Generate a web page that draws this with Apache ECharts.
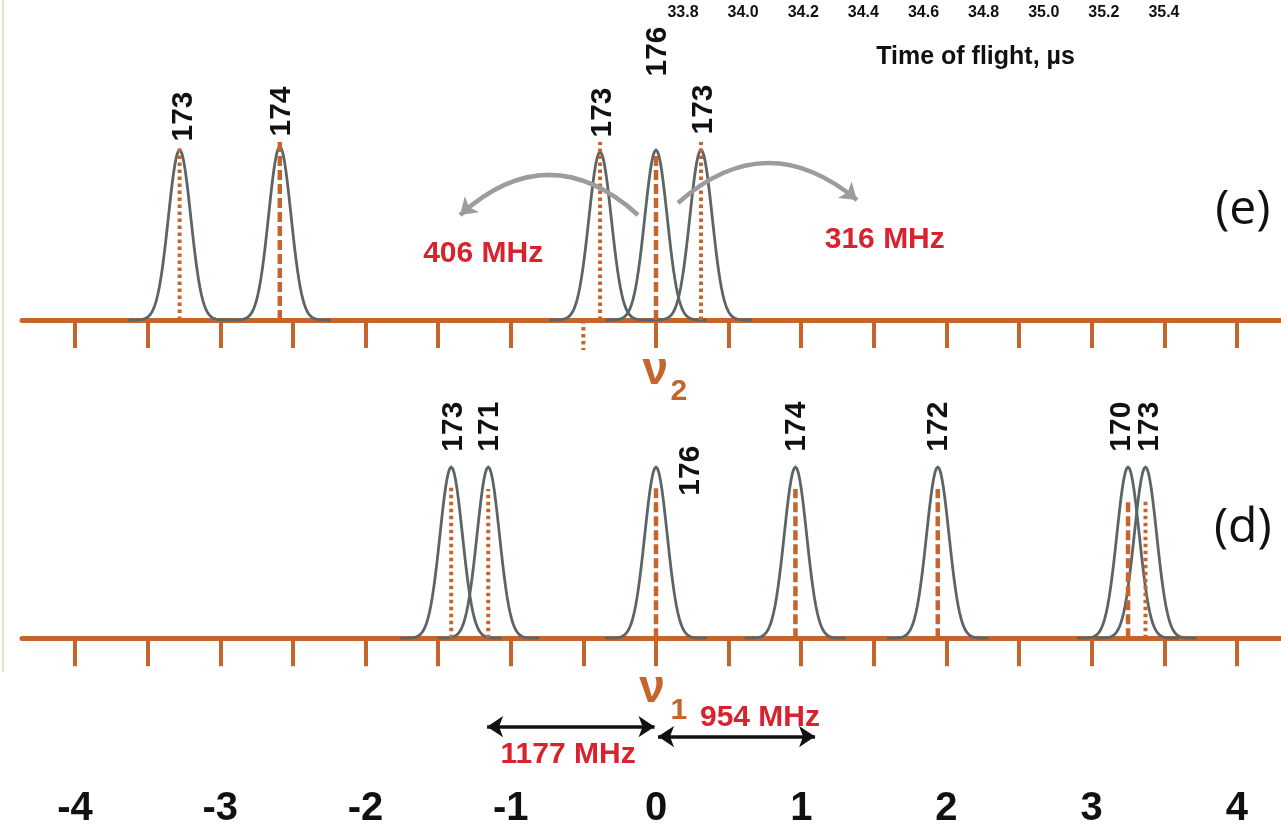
<!DOCTYPE html>
<html><head><meta charset="utf-8">
<script src="https://cdn.jsdelivr.net/npm/echarts@6/dist/echarts.min.js"></script>
<style>html,body{margin:0;padding:0;background:#fff}#c{width:1281px;height:837px}</style>
</head><body><div id="c"></div>
<script>
// ---------------- data ----------------
// panel (e)
const ePeakPos    = [-3.28, -2.59, -0.385, 0.0, 0.31];
const ePeakHeight = [0.85, 0.865, 0.84, 0.85, 0.85];
const ePeakMass   = ['173', '174', '173', '176', '173'];
const ePeakLine   = ['dotted', 'dashed', 'dotted', 'dashed', 'dotted'];
const eLineTop    = [0.86, 0.90, 0.89, 0.84, 0.89];
const eDottedTicks = [-0.5];
// panel (d)
const dPeakPos    = [-1.41, -1.155, 0.0, 0.96, 1.94, 3.25, 3.37];
const dPeakHeight = [0.86, 0.86, 0.86, 0.86, 0.86, 0.86, 0.86];
const dPeakMass   = ['173', '171', '176', '174', '172', '170', '173'];
const dPeakLine   = ['dotted', 'dotted', 'dashed', 'dashed', 'dashed', 'dashed', 'dotted'];
const dLineTop    = [0.76, 0.75, 0.76, 0.75, 0.75, 0.70, 0.70];
const peakSigma   = 0.077;
// axes
const freqTicks  = [-4, -3.5, -3, -2.5, -2, -1.5, -1, -0.5, 0, 0.5, 1, 1.5, 2, 2.5, 3, 3.5, 4];
const freqLabels = [-4, -3, -2, -1, 0, 1, 2, 3, 4];
const tofLabels  = [33.8, 34.0, 34.2, 34.4, 34.6, 34.8, 35.0, 35.2, 35.4];
const tofName    = 'Time of flight, µs';
// annotations text
const eShiftText = ['406 MHz', '316 MHz'];
const dShiftText = ['1177 MHz', '954 MHz'];

// ---------------- layout / style ----------------
const ORANGE = '#c4652d', GRAY = '#5b6565', RED = '#d8232f', ARROW = '#9c9c9c';
const XMIN = -4.365, XMAX = 4.303;
const TOFMIN = 33.7568, TOFMAX = 35.7894;
const eLabelShift = [[5, -8], [2, -10], [3, -14], [2, -73], [3, -15]];
const dLabelShift = [[3, -15], [2, -15], [35, 29], [2, -15], [1, -15], [-6, -15], [5, -15]];

const redStyle = {color: RED, fontSize: 30, fontWeight: 'bold', fontFamily: 'Liberation Sans'};
const nuStyle  = {color: ORANGE, fontSize: 46, fontWeight: 'bold', fontFamily: 'Liberation Sans'};
const subStyle = {color: ORANGE, fontSize: 30, fontWeight: 'bold', fontFamily: 'Liberation Sans'};
const panStyle = {color: '#111', fontSize: 48, fontFamily: 'Open Sans'};

const eAnno = [
  {text: eShiftText[0], at: [-1.19, 0.33], style: redStyle},
  {text: eShiftText[1], at: [1.575, 0.40], style: redStyle},
  {text: 'ν', at: [-0.005, -0.255], style: nuStyle},
  {text: '2', at: [0.158, -0.36], style: subStyle},
  {text: '(e)', at: [4.04, 0.55], style: panStyle}
];
const dAnno = [
  {text: dShiftText[0], at: [-0.605, -0.585], style: redStyle},
  {text: dShiftText[1], at: [0.716, -0.40], style: redStyle},
  {text: 'ν', at: [-0.028, -0.255], style: nuStyle},
  {text: '1', at: [0.158, -0.365], style: subStyle},
  {text: '(d)', at: [4.04, 0.55], style: panStyle}
];
const eArrows = [
  {coords: [[-0.124, 0.525], [-1.349, 0.525]], curveness: -0.45},
  {coords: [[0.151, 0.585], [1.384, 0.60]], curveness: 0.43}
];
const dArrows = [
  {coords: [[-1.163, -0.445], [-0.01, -0.445]]},
  {coords: [[0.014, -0.495], [1.095, -0.495]]}
];

// ---------------- build ----------------
function gaussSeries(pos, h, axis) {
  return {
    type: 'custom', xAxisIndex: axis, yAxisIndex: axis, silent: true, z: 3,
    data: pos.map((p, i) => [p, h[i]]),
    renderItem(params, api) {
      const c = api.value(0), a = api.value(1), pts = [];
      for (let k = -35; k <= 35; k++) {
        const x = c + k * 0.01;
        pts.push(api.coord([x, a * Math.exp(-((x - c) * (x - c)) / (2 * peakSigma * peakSigma))]));
      }
      return {type: 'polyline', shape: {points: pts}, style: {stroke: GRAY, lineWidth: 2.8, fill: null}};
    }
  };
}
function markerSeries(pos, top, kind, axis, z) {
  return {
    type: 'custom', xAxisIndex: axis, yAxisIndex: axis, silent: true, z: z || 4,
    data: pos.map((p, i) => [p, top[i], kind[i] === 'dotted' ? 1 : 0]),
    renderItem(params, api) {
      const p0 = api.coord([api.value(0), 0]), p1 = api.coord([api.value(0), api.value(1)]);
      const dotted = api.value(2) === 1;
      return {type: 'line', shape: {x1: p0[0], y1: p0[1], x2: p1[0], y2: p1[1]},
        style: {stroke: ORANGE, lineWidth: dotted ? 4 : 4.5, lineDash: dotted ? [3.5, 3.5] : [10, 4]}};
    }
  };
}
function labelSeries(pos, h, mass, shift, axis) {
  return {
    type: 'scatter', xAxisIndex: axis, yAxisIndex: axis, symbolSize: 1, silent: true, z: 6,
    itemStyle: {color: 'transparent', opacity: 1},
    data: pos.map((p, i) => ({name: mass[i], value: [p, h[i]], label: {position: shift[i]}})),
    label: {show: true, opacity: 1, formatter: '{b}', rotate: 90, align: 'left', verticalAlign: 'middle',
      fontSize: 30, fontWeight: 'bold', fontFamily: 'Liberation Sans', color: '#111'}
  };
}
function annoSeries(list, axis) {
  return {
    type: 'scatter', xAxisIndex: axis, yAxisIndex: axis, symbolSize: 1, silent: true, z: 7,
    itemStyle: {color: 'transparent', opacity: 1},
    data: list.map(a => ({name: a.text, value: a.at,
      label: Object.assign({show: true, opacity: 1, position: 'inside', formatter: '{b}', align: 'center', verticalAlign: 'middle'}, a.style)}))
  };
}
function baseX(grid, ticks) {
  return {
    type: 'value', gridIndex: grid, min: XMIN, max: XMAX,
    axisLine: {show: true, onZero: true, lineStyle: {color: ORANGE, width: 5}},
    axisTick: {show: true, customValues: ticks, length: 28, lineStyle: {color: ORANGE, width: 4}},
    axisLabel: {show: false}, splitLine: {show: false}
  };
}

const option = {
  animation: false,
  backgroundColor: '#fff',
  graphic: [{type: 'rect', shape: {x: 2, y: 0, width: 2, height: 672}, style: {fill: '#d6ebcd'}}],
  grid: [
    {left: 22, right: 0, top: 0, height: 420},
    {left: 22, right: 0, top: 320, height: 520},
    {left: 22, right: 0, top: 782, height: 1},
    {left: 670, right: 0, top: 0, height: 1}
  ],
  xAxis: [
    baseX(0, freqTicks.filter(t => eDottedTicks.indexOf(t) < 0)),
    baseX(1, freqTicks),
    {type: 'value', gridIndex: 2, min: XMIN, max: XMAX, axisLine: {show: false}, axisTick: {show: false},
     splitLine: {show: false},
     axisLabel: {customValues: freqLabels, formatter: v => String(v), margin: 6,
       fontSize: 40, fontWeight: 'bold', fontFamily: 'Liberation Sans', color: '#111'}},
    {type: 'value', gridIndex: 3, min: TOFMIN, max: TOFMAX, axisLine: {show: false}, axisTick: {show: false},
     splitLine: {show: false},
     axisLabel: {customValues: tofLabels, formatter: v => v.toFixed(1), margin: 4,
       fontSize: 16, fontWeight: 'bold', fontFamily: 'Liberation Sans', color: '#111'},
     name: tofName, nameLocation: 'middle', nameGap: 44,
     nameTextStyle: {fontSize: 25, fontWeight: 'bold', fontFamily: 'Liberation Sans', color: '#111'}}
  ],
  yAxis: [
    {type: 'value', gridIndex: 0, min: -0.5, max: 1.6, show: false},
    {type: 'value', gridIndex: 1, min: -1.0, max: 1.6, show: false},
    {type: 'value', gridIndex: 2, min: 0, max: 1, show: false},
    {type: 'value', gridIndex: 3, min: 0, max: 1, show: false}
  ],
  series: [
    gaussSeries(ePeakPos, ePeakHeight, 0),
    gaussSeries(dPeakPos, dPeakHeight, 1),
    markerSeries(ePeakPos, eLineTop, ePeakLine, 0),
    markerSeries(dPeakPos, dLineTop, dPeakLine, 1),
    markerSeries(eDottedTicks, eDottedTicks.map(() => -0.15), eDottedTicks.map(() => 'dotted'), 0),
    labelSeries(ePeakPos, ePeakHeight, ePeakMass, eLabelShift, 0),
    labelSeries(dPeakPos, dPeakHeight, dPeakMass, dLabelShift, 1),
    {type: 'lines', coordinateSystem: 'cartesian2d', xAxisIndex: 0, yAxisIndex: 0, silent: true, z: 5,
     symbol: ['none', 'arrow'], symbolSize: 16,
     data: eArrows.map(a => ({coords: a.coords, lineStyle: {curveness: a.curveness}})),
     lineStyle: {color: ARROW, width: 4.5, opacity: 1}},
    {type: 'lines', coordinateSystem: 'cartesian2d', xAxisIndex: 1, yAxisIndex: 1, silent: true, z: 5,
     symbol: ['arrow', 'arrow'], symbolSize: 16,
     data: dArrows.map(a => ({coords: a.coords})),
     lineStyle: {color: '#111', width: 3.5, opacity: 1}},
    annoSeries(eAnno, 0),
    annoSeries(dAnno, 1)
  ]
};
echarts.init(document.getElementById('c')).setOption(option);
</script></body></html>
